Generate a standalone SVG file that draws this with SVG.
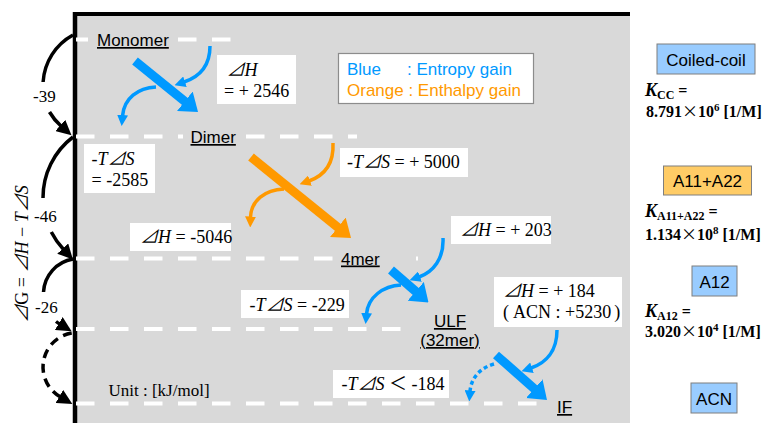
<svg xmlns="http://www.w3.org/2000/svg" width="769" height="423" viewBox="0 0 769 423">
  <defs>
    <style>
      .sans{font-family:"Liberation Sans",Arial,sans-serif}
      .serif{font-family:"Liberation Serif","Noto Sans CJK JP","DejaVu Sans",serif}
      .cjk{font-family:"Noto Sans CJK JP","Liberation Serif",serif;font-weight:normal}
      .lvl{font-size:17px;text-decoration:underline;fill:#000}
      .math{font-size:18px;fill:#000}
      .it{font-style:italic}
      .tag{fill:#fff}
      .bg{fill:#d9d9d9}
      .dash{stroke:#fff;stroke-width:4;stroke-dasharray:18.5 15.5;fill:none}
      .thin{fill:none;stroke-width:3.5}
      .shaft{fill:none;stroke-width:9}
      .blue{stroke:#0099ff}
      .orange{stroke:#ff9900}
      .blk{fill:none;stroke:#000;stroke-width:3.5}
      .kval{font-size:16px;font-weight:bold;fill:#000}
      .chip{stroke:#7f7f7f;stroke-width:1}
      .chiptext{font-size:17px;fill:#000;text-anchor:middle}
    </style>
    <marker id="headBlue" markerUnits="userSpaceOnUse" markerWidth="11" markerHeight="11" viewBox="0 0 11 11" refX="1" refY="5.5" orient="auto">
      <path d="M0,0 L11,5.5 L0,11 z" fill="#0099ff"/>
    </marker>
    <marker id="headOrange" markerUnits="userSpaceOnUse" markerWidth="11" markerHeight="11" viewBox="0 0 11 11" refX="1" refY="5.5" orient="auto">
      <path d="M0,0 L11,5.5 L0,11 z" fill="#ff9900"/>
    </marker>
    <marker id="bigBlue" markerUnits="userSpaceOnUse" markerWidth="17" markerHeight="25" viewBox="0 0 17 25" refX="1" refY="12.5" orient="auto">
      <path d="M0,0 L17,12.5 L0,25 z" fill="#0099ff"/>
    </marker>
    <marker id="bigOrange" markerUnits="userSpaceOnUse" markerWidth="17" markerHeight="25" viewBox="0 0 17 25" refX="1" refY="12.5" orient="auto">
      <path d="M0,0 L17,12.5 L0,25 z" fill="#ff9900"/>
    </marker>
    <marker id="headBlack" markerUnits="userSpaceOnUse" markerWidth="15" markerHeight="15" viewBox="0 0 15 15" refX="1" refY="7.5" orient="auto">
      <path d="M0,0 L15,7.5 L0,15 z" fill="#000"/>
    </marker>
  </defs>

  <rect width="769" height="423" fill="#fff"/>

  <!-- energy panel -->
  <g id="panel">
    <rect x="77" y="16" width="553" height="407" fill="#d9d9d9"/>
    <line x1="73" y1="14" x2="630" y2="14" stroke="#000" stroke-width="4"/>
    <line x1="75" y1="12" x2="75" y2="423" stroke="#000" stroke-width="4.5"/>
  </g>

  <!-- energy levels -->
  <g id="level-monomer">
    <line class="dash" x1="76" y1="39.5" x2="231" y2="39.5"/>
    <rect class="bg" x="88" y="30" width="88" height="22"/>
    <text class="sans lvl" x="97" y="46">Monomer</text>
  </g>
  <g id="level-dimer">
    <line class="dash" x1="76" y1="136.5" x2="357" y2="136.5"/>
    <rect class="bg" x="183" y="127" width="60" height="22"/>
    <text class="sans lvl" x="190.5" y="143">Dimer</text>
  </g>
  <g id="level-4mer">
    <line class="dash" x1="76" y1="258.5" x2="418" y2="258.5"/>
    <rect class="bg" x="336" y="249" width="76" height="22"/>
    <text class="sans lvl" x="341" y="264.5">4mer</text>
  </g>
  <g id="level-ulf">
    <line class="dash" x1="76" y1="329" x2="401" y2="329"/>
    <text class="sans lvl" x="450" y="327" text-anchor="middle">ULF</text>
    <text class="sans lvl" x="450" y="346" text-anchor="middle">(32mer)</text>
  </g>
  <g id="level-if">
    <line class="dash" x1="76" y1="403.5" x2="537" y2="403.5"/>
    <text class="sans lvl" x="557" y="413">IF</text>
  </g>

  <!-- legend -->
  <g id="legend">
    <rect x="338.5" y="53.5" width="195" height="50" fill="#fff" stroke="#8c8c8c" stroke-width="1.2"/>
    <text class="sans" font-size="17" fill="#0099ff" y="75"><tspan x="347">Blue</tspan><tspan x="407">: Entropy gain</tspan></text>
    <text class="sans" font-size="17" fill="#ff9900" x="347" y="96">Orange : Enthalpy gain</text>
  </g>

  <!-- value tags -->
  <g id="tag-dh-dimer">
    <rect class="tag" x="217" y="55" width="79" height="49"/>
    <text class="serif math" x="226.5" y="76"><tspan class="it">⊿H</tspan></text>
    <text class="serif math" x="224" y="96.5">= + 2546</text>
  </g>
  <g id="tag-ts-dimer">
    <rect class="tag" x="84" y="144" width="71" height="49"/>
    <text class="serif math it" x="91.5" y="165">-T⊿S</text>
    <text class="serif math" x="91.5" y="185.5">= -2585</text>
  </g>
  <g id="tag-ts-4mer">
    <rect class="tag" x="340" y="148" width="128" height="29"/>
    <text class="serif math" x="347" y="168"><tspan class="it">-T⊿S</tspan> = + 5000</text>
  </g>
  <g id="tag-dh-4mer">
    <rect class="tag" x="130" y="223" width="101" height="28"/>
    <text class="serif math" x="140" y="242.5"><tspan class="it">⊿H</tspan> = -5046</text>
  </g>
  <g id="tag-dh-ulf">
    <rect class="tag" x="451" y="216" width="100" height="28"/>
    <text class="serif math" x="460" y="235.5"><tspan class="it">⊿H</tspan> = + 203</text>
  </g>
  <g id="tag-ts-ulf">
    <rect class="tag" x="241" y="290" width="108" height="28"/>
    <text class="serif math" x="249.5" y="311"><tspan class="it">-T⊿S</tspan> = -229</text>
  </g>
  <g id="tag-dh-if">
    <rect class="tag" x="494" y="277" width="128" height="50"/>
    <text class="serif math" x="503" y="297"><tspan class="it">⊿H</tspan> = + 184</text>
    <text class="serif math" x="503" y="318">(<tspan dx="4">ACN : +5230</tspan><tspan dx="3">)</tspan></text>
  </g>
  <g id="tag-ts-if">
    <rect class="tag" x="333" y="370" width="116" height="28"/>
    <text class="serif math" x="341.5" y="390"><tspan class="it">-T⊿S</tspan> ＜ -184</text>
  </g>

  <!-- axis notes -->
  <g id="axis-notes">
    <text class="serif" font-size="18" fill="#000" text-anchor="middle" transform="translate(27.5,254) rotate(-90)"><tspan class="it">⊿</tspan>G = <tspan class="it">⊿H</tspan> − <tspan class="it">T⊿S</tspan></text>
    <text class="serif" font-size="17" fill="#000" x="33" y="101.5">-39</text>
    <text class="serif" font-size="17" fill="#000" x="34" y="221.5">-46</text>
    <text class="serif" font-size="17" fill="#000" x="35" y="313">-26</text>
    <text class="serif" font-size="17" fill="#000" x="108.5" y="396">Unit : [kJ/mol]</text>
  </g>

  <!-- connectors -->
  <g id="connectors">
    <!-- ΔG steps on the left axis -->
    <path class="blk" d="M73,35 A57.5,57.5 0 0 0 43.1,82"/>
    <path class="blk" d="M49.5,112 A57.5,57.5 0 0 0 61,126" marker-end="url(#headBlack)"/>
    <path class="blk" d="M73,137 A76,76 0 0 0 43,198"/>
    <path class="blk" d="M51.3,232 A76,76 0 0 0 63.4,249.3" marker-end="url(#headBlack)"/>
    <path class="blk" d="M73,259 A35.4,35.4 0 0 0 43.5,292"/>
    <path class="blk" d="M56,321.5 A35.4,35.4 0 0 0 59.6,324" marker-end="url(#headBlack)"/>
    <path class="blk" d="M71.7,333 A34.5,34.5 0 0 0 60.25,396.9" stroke-dasharray="9 6" marker-end="url(#headBlack)"/>

    <!-- transitions -->
    <line class="shaft blue" x1="135" y1="61" x2="185.6" y2="101.9" marker-end="url(#bigBlue)"/>
    <line class="shaft orange" x1="251" y1="157" x2="338.6" y2="227.9" marker-end="url(#bigOrange)"/>
    <line class="shaft blue" x1="391" y1="270" x2="416.4" y2="292" marker-end="url(#bigBlue)"/>
    <line class="shaft blue" x1="496" y1="355" x2="535" y2="389.4" marker-end="url(#bigBlue)"/>

    <!-- enthalpy / entropy contributions -->
    <path class="thin blue" d="M210,46 C210,66 199,77 184,82" marker-end="url(#headBlue)"/>
    <path class="thin blue" d="M156,87 C138,88 124,98 122.5,116" marker-end="url(#headBlue)"/>
    <path class="thin orange" d="M333,143 C334,165 323,176 309,181" marker-end="url(#headOrange)"/>
    <path class="thin orange" d="M284,189 C265,190 251,200 250.5,217.5" marker-end="url(#headOrange)"/>
    <path class="thin blue" d="M443,238 C444,259 433,272 419,277" marker-end="url(#headBlue)"/>
    <path class="thin blue" d="M401,285 C383,286 368,297 366.5,314" marker-end="url(#headBlue)"/>
    <path class="thin blue" d="M557,330 C557,351 546,363 531,368" marker-end="url(#headBlue)"/>
    <path class="thin blue" d="M494,364 C480,368 471,378 470,391.5" stroke-dasharray="4 3" marker-end="url(#headBlue)"/>
  </g>

  <!-- binding constants -->
  <g id="chip-coiled-coil">
    <rect class="chip" x="657" y="44" width="98" height="30" fill="#99ccff"/>
    <text class="sans chiptext" x="706" y="66">Coiled-coil</text>
  </g>
  <g id="k-cc">
    <text class="serif kval" x="645" y="96"><tspan class="it" font-size="18">K</tspan><tspan font-size="12" dy="3">CC</tspan><tspan dy="-3"> =</tspan></text>
    <text class="serif kval" x="646" y="117">8.791<tspan class="cjk">×</tspan>10<tspan font-size="11" dy="-6">6</tspan><tspan dy="6"> [1/M]</tspan></text>
  </g>
  <g id="chip-a11-a22">
    <rect class="chip" x="663.5" y="166" width="88" height="29" fill="#ffcc66"/>
    <text class="sans chiptext" x="707.5" y="187">A11+A22</text>
  </g>
  <g id="k-a11-a22">
    <text class="serif kval" x="645" y="217"><tspan class="it" font-size="18">K</tspan><tspan font-size="12" dy="3">A11+A22</tspan><tspan dy="-3"> =</tspan></text>
    <text class="serif kval" x="645" y="240">1.134<tspan class="cjk">×</tspan>10<tspan font-size="11" dy="-6">8</tspan><tspan dy="6"> [1/M]</tspan></text>
  </g>
  <g id="chip-a12">
    <rect class="chip" x="692" y="266" width="45" height="30" fill="#99ccff"/>
    <text class="sans chiptext" x="714.5" y="288">A12</text>
  </g>
  <g id="k-a12">
    <text class="serif kval" x="645" y="317"><tspan class="it" font-size="18">K</tspan><tspan font-size="12" dy="3">A12</tspan><tspan dy="-3"> =</tspan></text>
    <text class="serif kval" x="645" y="337">3.020<tspan class="cjk">×</tspan>10<tspan font-size="11" dy="-6">4</tspan><tspan dy="6"> [1/M]</tspan></text>
  </g>
  <g id="chip-acn">
    <rect class="chip" x="691" y="383" width="46" height="30" fill="#99ccff"/>
    <text class="sans chiptext" x="714" y="405">ACN</text>
  </g>
</svg>
